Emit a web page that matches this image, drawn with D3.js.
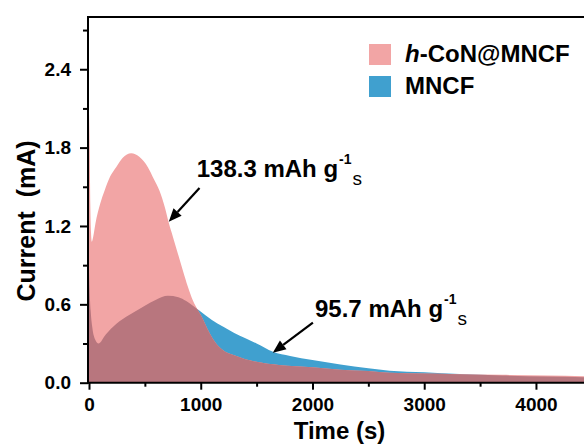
<!DOCTYPE html>
<html>
<head>
<meta charset="utf-8">
<script src="https://cdn.jsdelivr.net/npm/d3@7"></script>
<style>
  html, body { margin: 0; padding: 0; background: #fff; }
  svg { display: block; font-family: "Liberation Sans", Arial, sans-serif; }
</style>
</head>
<body>
<svg id="chart" width="584" height="447"></svg>
<script>
// ---- data ----
const hconTime = [0, 6, 12, 18, 25, 38, 58, 100, 139, 190, 243, 300, 378, 450, 527, 580, 631, 680, 715, 750, 795, 840, 885, 930, 974, 1000, 1040, 1079, 1130, 1198, 1300, 1400, 1500, 1700, 2000, 2250, 2500, 2690, 3000, 3300, 3700, 4100, 4450];
const hconCurrent = [2.07, 1.8, 1.35, 1.15, 1.08, 1.12, 1.22, 1.37, 1.47, 1.58, 1.65, 1.72, 1.757, 1.73, 1.65, 1.56, 1.47, 1.34, 1.22, 1.12, 0.99, 0.86, 0.735, 0.63, 0.557, 0.52, 0.45, 0.38, 0.31, 0.25, 0.21, 0.18, 0.16, 0.135, 0.118, 0.10, 0.09, 0.077, 0.07, 0.065, 0.06, 0.055, 0.05];
const mncfTime = [0, 5, 15, 30, 55, 85, 150, 243, 363, 500, 600, 706, 800, 870, 930, 990, 1100, 1198, 1300, 1400, 1500, 1646, 1800, 2000, 2250, 2500, 2690, 3000, 3316, 3700, 4100, 4450];
const mncfCurrent = [0.85, 0.72, 0.55, 0.42, 0.33, 0.30, 0.37, 0.45, 0.52, 0.59, 0.635, 0.665, 0.655, 0.625, 0.59, 0.55, 0.48, 0.43, 0.38, 0.34, 0.30, 0.237, 0.205, 0.174, 0.14, 0.11, 0.092, 0.08, 0.066, 0.055, 0.047, 0.042];
const seriesNames = ["h-CoN@MNCF", "MNCF"];
const yTickValues = [0, 0.6, 1.2, 1.8, 2.4];
const yTickLabels = ["0.0", "0.6", "1.2", "1.8", "2.4"];
const yMinorTicks = [0.3, 0.9, 1.5, 2.1, 2.7];
const xTickValues = [0, 1000, 2000, 3000, 4000];
const xTickLabels = ["0", "1000", "2000", "3000", "4000"];
const xMinorTicks = [500, 1500, 2500, 3500];
const annotations = [
  { value: "138.3", tx: 989, ty: 1.49, hx: 714, hy: 1.233 },
  { value: "95.7",  tx: 2004, ty: 0.46, hx: 1645, hy: 0.23 }
];

// ---- styles ----
const PINK = "#F2A5A5", BLUE = "#40A0CF", MAUVE = "#B8767E";

const svg = d3.select("#chart");
const x = d3.scaleLinear().domain([0, 4430]).range([89, 584]);
const y = d3.scaleLinear().domain([0, 2.8]).range([382.7, 17]);

const hcon = hconTime.map((t, i) => ({ t, v: hconCurrent[i] }));
const mncf = mncfTime.map((t, i) => ({ t, v: mncfCurrent[i] }));

const area = d3.area().x(d => x(d.t)).y0(y(0)).y1(d => y(d.v)).curve(d3.curveMonotoneX);

const defs = svg.append("defs");
defs.append("clipPath").attr("id", "hconClip").append("path").attr("d", area(hcon));
defs.append("clipPath").attr("id", "plotClip").append("rect")
  .attr("x", x(0)).attr("y", y(2.8)).attr("width", 584 - x(0)).attr("height", y(0) - y(2.8));

const plot = svg.append("g").attr("clip-path", "url(#plotClip)");
plot.append("path").attr("d", area(mncf)).attr("fill", BLUE);
plot.append("path").attr("d", area(hcon)).attr("fill", PINK);
plot.append("path").attr("d", area(mncf)).attr("fill", MAUVE).attr("clip-path", "url(#hconClip)");

// ---- axes ----
const axisW = 2;
const yAxis = svg.append("g").attr("transform", `translate(${x(0) - 1},0)`);
yAxis.call(d3.axisLeft(y).tickValues(yTickValues).tickFormat((d, i) => yTickLabels[i]).tickSize(8).tickPadding(9));
const yMinor = svg.append("g").attr("transform", `translate(${x(0) - 1},0)`);
yMinor.call(d3.axisLeft(y).tickValues(yMinorTicks).tickFormat("").tickSize(5));
const xAxis = svg.append("g").attr("transform", `translate(0,${y(0)})`);
xAxis.call(d3.axisBottom(x).tickValues(xTickValues).tickFormat((d, i) => xTickLabels[i]).tickSize(7).tickPadding(8));
const xMinor = svg.append("g").attr("transform", `translate(0,${y(0)})`);
xMinor.call(d3.axisBottom(x).tickValues(xMinorTicks).tickFormat("").tickSize(4));

svg.selectAll(".domain").remove();
svg.selectAll(".tick line").attr("stroke", "#000").attr("stroke-width", 2);
svg.selectAll(".tick text").attr("fill", "#000").style("font-size", "19px").style("font-weight", "bold")
  .style("font-family", '"Liberation Sans", Arial, sans-serif');

// frame lines
svg.append("line").attr("x1", x(0) - 1).attr("x2", x(0) - 1).attr("y1", y(2.8) - 1).attr("y2", y(0) + 1)
  .attr("stroke", "#000").attr("stroke-width", axisW);
svg.append("line").attr("x1", x(0) - 2).attr("x2", 584).attr("y1", y(0)).attr("y2", y(0))
  .attr("stroke", "#000").attr("stroke-width", axisW);
svg.append("line").attr("x1", x(0) - 2).attr("x2", 584).attr("y1", y(2.8)).attr("y2", y(2.8))
  .attr("stroke", "#000").attr("stroke-width", axisW);

// axis titles
svg.append("text").attr("x", 339.5).attr("y", 438.5).attr("text-anchor", "middle")
  .style("font-size", "24px").style("font-weight", "bold").text("Time (s)");
svg.append("text").attr("transform", `translate(35,${221}) rotate(-90)`).attr("text-anchor", "middle")
  .style("font-size", "25px").style("font-weight", "bold").attr("xml:space", "preserve")
  .style("white-space", "pre").text("Current  (mA)");

// ---- annotations ----
const ann = [
  { a: annotations[0], lx: 196.7, ly: 176.7 },
  { a: annotations[1], lx: 315, ly: 316.7 }
];
ann.forEach(({ a, lx, ly }) => {
  const t = svg.append("text").attr("x", lx).attr("y", ly)
    .style("font-size", "24px").style("font-weight", "bold");
  t.append("tspan").text(`${a.value} mAh g`);
  t.append("tspan").attr("dy", -13).attr("dx", 1).style("font-size", "14px").text("-1");
  t.append("tspan").attr("dy", 21).attr("dx", 1).style("font-size", "19px").style("font-weight", "normal").text("s");

  const x1 = x(a.tx), y1 = y(a.ty), x2 = x(a.hx), y2 = y(a.hy);
  const ang = Math.atan2(y2 - y1, x2 - x1);
  const L = 13, W = 5.5;
  const bx = x2 - L * Math.cos(ang), by = y2 - L * Math.sin(ang);
  svg.append("line").attr("x1", x1).attr("y1", y1).attr("x2", bx).attr("y2", by)
    .attr("stroke", "#000").attr("stroke-width", 2.2);
  const px = -Math.sin(ang), py = Math.cos(ang);
  svg.append("path")
    .attr("d", `M${x2},${y2}L${bx + W * px},${by + W * py}L${bx - W * px},${by - W * py}Z`)
    .attr("fill", "#000");
});

// ---- legend ----
const legend = svg.append("g");
const legendColors = [PINK, BLUE];
const legendY = [44, 76];
seriesNames.forEach((name, i) => {
  legend.append("rect").attr("x", 369).attr("y", legendY[i]).attr("width", 22).attr("height", 21)
    .attr("fill", legendColors[i]);
  const t = legend.append("text").attr("x", 405).attr("y", legendY[i] + 18)
    .style("font-size", "24px").style("font-weight", "bold");
  if (name.startsWith("h-")) {
    t.append("tspan").style("font-style", "italic").text("h");
    t.append("tspan").text(name.slice(1));
  } else {
    t.text(name);
  }
});
</script>
</body>
</html>
